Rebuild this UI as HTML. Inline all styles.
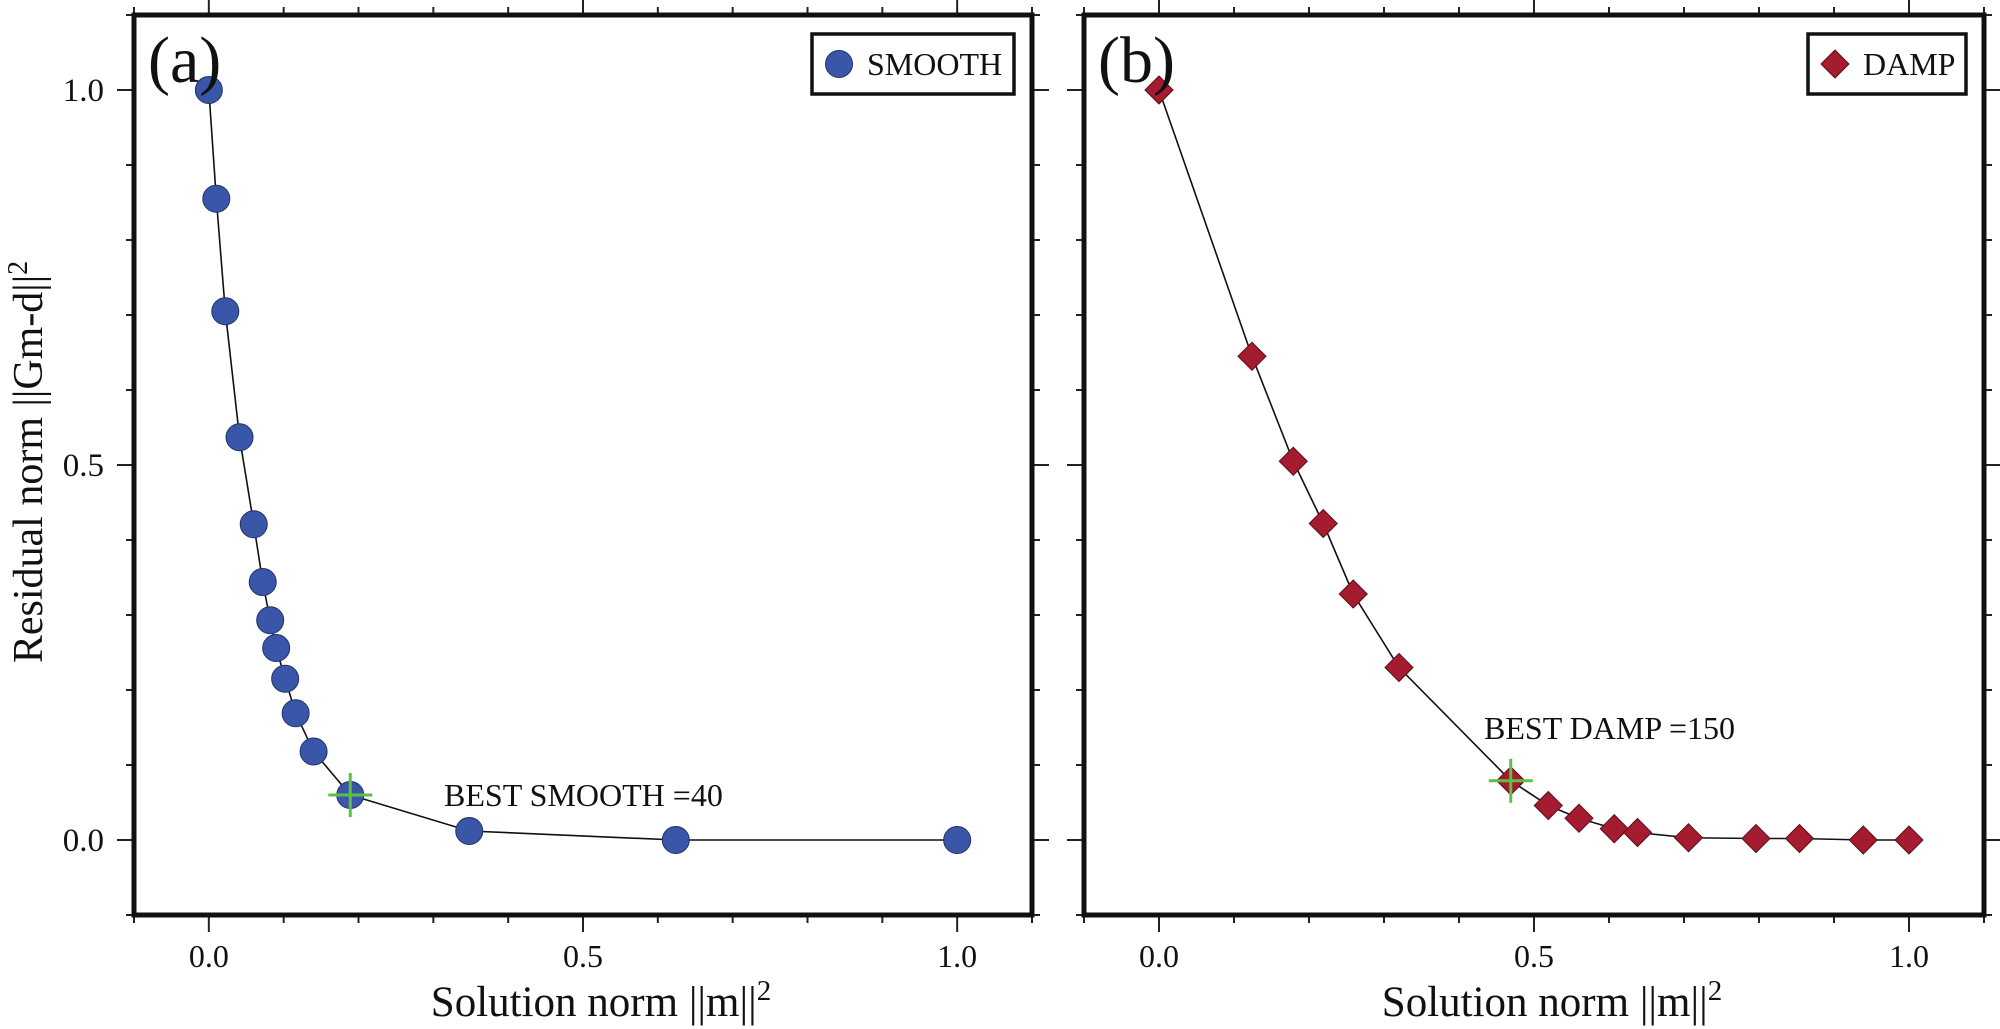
<!DOCTYPE html>
<html><head><meta charset="utf-8"><style>
html,body{margin:0;padding:0;background:#fff;width:2000px;height:1029px;overflow:hidden}
svg text{font-family:"Liberation Serif",serif;fill:#111}
</style></head><body>
<svg id="chart" width="2000" height="1029" viewBox="0 0 2000 1029" xmlns="http://www.w3.org/2000/svg"></svg>
<script>
const smoothX=[0,0.010,0.022,0.041,0.060,0.072,0.082,0.090,0.102,0.116,0.140,0.189,0.348,0.624,1.0];
const smoothY=[1.0,0.855,0.705,0.537,0.421,0.344,0.293,0.256,0.215,0.169,0.118,0.060,0.012,0.0,0.0];
const dampX=[0,0.124,0.179,0.219,0.259,0.320,0.469,0.519,0.560,0.607,0.638,0.706,0.796,0.854,0.939,1.0];
const dampY=[1.0,0.645,0.505,0.422,0.328,0.230,0.079,0.046,0.029,0.015,0.010,0.003,0.002,0.002,0.0,0.0];
const bestSmooth=[0.189,0.060];
const bestDamp=[0.469,0.079];
const tickLabels=["0.0","0.5","1.0"];
const tickVals=[0,0.5,1.0];

const NS="http://www.w3.org/2000/svg";
const svg=document.getElementById('chart');
function mk(tag,attrs,parent){const e=document.createElementNS(NS,tag);for(const k in attrs)e.setAttribute(k,attrs[k]);(parent||svg).appendChild(e);return e;}

function panel(cfg){
  const g=mk('g',{});
  
  
  const L=cfg.left,R=cfg.right,T=15,B=915;
  const sx=v=>L+(v+0.1)/1.2*(R-L);
  const sy=v=>B-(v+0.1)/1.2*(B-T);
  for(let i=-1;i<=11;i++){
    const v=i/10, major=(i%5===0), len=major?17:8;
    const x=sx(v), y=sy(v);
    let t=mk('line',{x1:x,y1:B,x2:x,y2:B+len,stroke:'#222','stroke-width':2},g);
    
    t=mk('line',{x1:x,y1:T,x2:x,y2:T-len,stroke:'#222','stroke-width':2},g);
    
    t=mk('line',{x1:L,y1:y,x2:L-len,y2:y,stroke:'#222','stroke-width':2},g);
    
    t=mk('line',{x1:R,y1:y,x2:R+len,y2:y,stroke:'#222','stroke-width':2},g);
    
  }
  tickVals.forEach((v,i)=>{
    let t=mk('text',{x:sx(v),y:967,'font-size':32,'text-anchor':'middle'},g);t.textContent=tickLabels[i];
    
    if(cfg.yLabels){
      t=mk('text',{x:104,y:sy(v)+11,'font-size':33,'text-anchor':'end'},g);t.textContent=tickLabels[i];
      
    }
  });
  let f=mk('rect',{x:L,y:T,width:R-L,height:B-T,fill:'none',stroke:'#111','stroke-width':5},g);
  
  const pts=cfg.xs.map((x,i)=>sx(x)+','+sy(cfg.ys[i])).join(' ');
  let pl=mk('polyline',{points:pts,fill:'none',stroke:'#111','stroke-width':1.6},g);
  
  cfg.xs.forEach((x,i)=>{
    const cx=sx(x),cy=sy(cfg.ys[i]);let m;
    if(cfg.shape==='circle') m=mk('circle',{cx:cx,cy:cy,r:13.5,fill:'#3a56a8',stroke:'#223366','stroke-width':1},g);
    else m=mk('polygon',{points:`${cx},${cy-14} ${cx+14},${cy} ${cx},${cy+14} ${cx-14},${cy}`,fill:'#a51c30',stroke:'#5a1018','stroke-width':1},g);
    
  });
  const bx=sx(cfg.best[0]),by=sy(cfg.best[1]);
  let c=mk('path',{d:`M${bx-22},${by}H${bx+22}M${bx},${by-22}V${by+22}`,stroke:'#5cc043','stroke-width':3,fill:'none'},g);
  
  let bt=mk('text',{x:cfg.bestText[0],y:cfg.bestText[1],'font-size':32},g);bt.textContent=cfg.bestLabel;
  
  let pl2=mk('text',{x:L+14,y:82,'font-size':66},g);pl2.textContent=cfg.letter;
  
  const lg=mk('g',{},g);
  mk('rect',{x:cfg.leg[0],y:34,width:cfg.leg[1]-cfg.leg[0],height:60,fill:'#fff',stroke:'#111','stroke-width':3.5},lg);
  const mx=cfg.leg[0]+27;
  if(cfg.shape==='circle') mk('circle',{cx:mx,cy:64,r:13.5,fill:'#3a56a8',stroke:'#223366','stroke-width':1},lg);
  else mk('polygon',{points:`${mx},${50} ${mx+14},64 ${mx},78 ${mx-14},64`,fill:'#a51c30',stroke:'#5a1018','stroke-width':1},lg);
  const lt=mk('text',{x:mx+28,y:75,'font-size':32},lg);lt.textContent=cfg.legText;
  let xt=mk('text',{x:(L+R)/2+18,y:1016,'font-size':43,'text-anchor':'middle'},g);
  xt.innerHTML='Solution norm ||m||<tspan dy="-16" font-size="29">2</tspan>';
  
}
panel({name:'panel-a-smooth',left:134,right:1032,xs:smoothX,ys:smoothY,shape:'circle',best:bestSmooth,bestLabel:'BEST SMOOTH =40',bestText:[444,806],letter:'(a)',leg:[812,1014],legText:'SMOOTH',yLabels:true});
panel({name:'panel-b-damp',left:1084,right:1984,xs:dampX,ys:dampY,shape:'diamond',best:bestDamp,bestLabel:'BEST DAMP =150',bestText:[1484,739],letter:'(b)',leg:[1808,1966],legText:'DAMP',yLabels:false});
const yt=mk('text',{x:0,y:0,'font-size':42,'text-anchor':'middle',transform:'translate(42,462) rotate(-90)'});
yt.innerHTML='Residual norm ||Gm-d||<tspan dy="-15" font-size="28">2</tspan>';


</script>
</body></html>
